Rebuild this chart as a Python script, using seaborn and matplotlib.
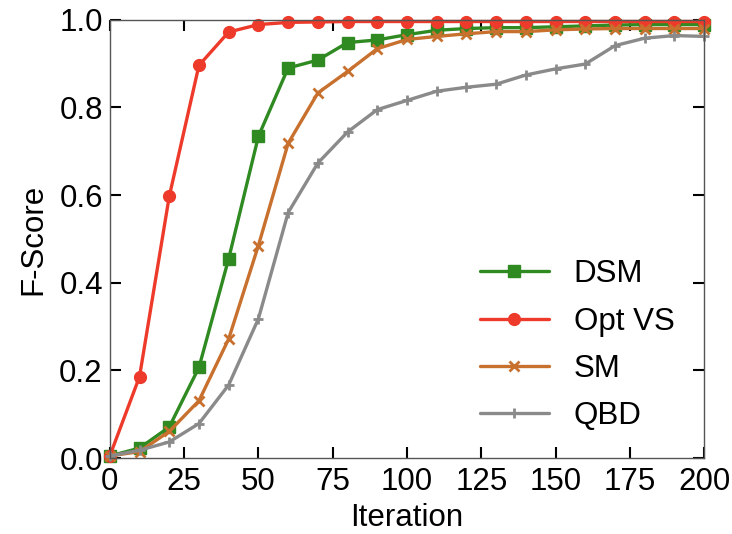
import numpy as np
import pandas as pd
import matplotlib
matplotlib.use("Agg")
import matplotlib.pyplot as plt
import seaborn as sns

iterations = list(range(0, 201, 10))

dsm = [0.005, 0.023, 0.071, 0.207, 0.455, 0.734, 0.890, 0.908, 0.948, 0.954,
       0.966, 0.976, 0.980, 0.982, 0.982, 0.984, 0.986, 0.988, 0.989, 0.989, 0.989]
opt_vs = [0.005, 0.186, 0.597, 0.896, 0.972, 0.989, 0.994, 0.995, 0.996, 0.996,
          0.996, 0.996, 0.996, 0.996, 0.996, 0.996, 0.996, 0.996, 0.996, 0.996, 0.996]
sm = [0.005, 0.015, 0.061, 0.131, 0.272, 0.485, 0.718, 0.833, 0.882, 0.934,
      0.955, 0.962, 0.968, 0.973, 0.973, 0.977, 0.979, 0.980, 0.980, 0.980, 0.980]
qbd = [0.005, 0.018, 0.037, 0.079, 0.167, 0.318, 0.560, 0.673, 0.744, 0.795,
       0.816, 0.837, 0.846, 0.853, 0.874, 0.888, 0.899, 0.941, 0.958, 0.964, 0.962]

series_names = ["DSM", "Opt VS", "SM", "QBD"]
series_values = [dsm, opt_vs, sm, qbd]
colors = ["#2f8a22", "#ee3a2a", "#c8702e", "#8a8a8a"]
markers = ["s", "o", "x", "+"]
marker_sizes = [8, 8.5, 7, 7]

x_ticks = [0, 25, 50, 75, 100, 125, 150, 175, 200]
y_ticks = [0.0, 0.2, 0.4, 0.6, 0.8, 1.0]

sns.set_theme(style="ticks")
plt.rcParams["font.family"] = ["Liberation Sans", "DejaVu Sans"]
plt.rcParams["text.color"] = "black"
plt.rcParams["axes.labelcolor"] = "black"
plt.rcParams["xtick.color"] = "black"
plt.rcParams["ytick.color"] = "black"

FS = 22.5

df = pd.DataFrame({
    "Iteration": iterations * len(series_names),
    "F-Score": sum(series_values, []),
    "Method": sum([[n] * len(iterations) for n in series_names], []),
})

fig = plt.figure(figsize=(7.32, 5.34), dpi=100)
ax = fig.add_axes([0.150, 0.142, 0.812, 0.821])

for name, color, mk, ms in zip(series_names, colors, markers, marker_sizes):
    sub = df[df["Method"] == name]
    sns.lineplot(data=sub, x="Iteration", y="F-Score", ax=ax, color=color,
                 marker=mk, markersize=ms, markeredgecolor=color,
                 markeredgewidth=2.0 if mk in ("x", "+") else 1.0,
                 linewidth=2.4, label=name, clip_on=False)

ax.set_xlim(0, 200)
ax.set_ylim(0, 1.0)
ax.set_xticks(x_ticks)
ax.set_xticklabels([str(t) for t in x_ticks])
ax.set_yticks(y_ticks)
ax.set_yticklabels([f"{t:.1f}" for t in y_ticks])
ax.set_xlabel("Iteration", fontsize=FS, labelpad=5, color="black")
ax.set_ylabel("F-Score", fontsize=FS, labelpad=8, color="black")
ax.tick_params(direction="in", length=8, width=1.5, labelsize=FS,
               top=True, right=True, color="black", labelcolor="black")
ax.tick_params(axis="x", pad=6)
ax.tick_params(axis="y", pad=5)
for sp in ax.spines.values():
    sp.set_color("#555555")
    sp.set_linewidth(1.0)

leg = ax.legend(loc="lower right", bbox_to_anchor=(0.997, -0.002), frameon=False,
                fontsize=FS, handlelength=2.2, handletextpad=0.8,
                labelspacing=0.55)
for t in leg.get_texts():
    t.set_color("black")
fig.savefig("out.png", dpi=100)
